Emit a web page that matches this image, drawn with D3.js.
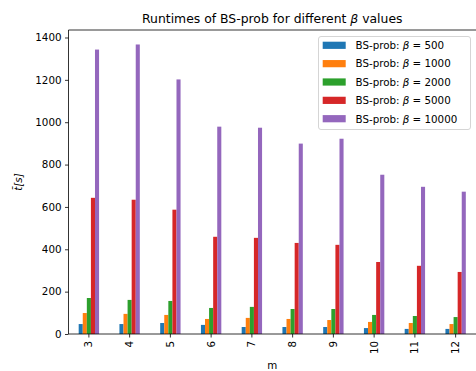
<!DOCTYPE html>
<html>
<head>
<meta charset="utf-8">
<script src="https://cdn.jsdelivr.net/npm/d3@7"></script>
<style>
  body { margin: 0; background: white; }
  text { font-family: "DejaVu Sans", sans-serif; }
</style>
</head>
<body>
<div id="container"></div>
<script>
// data
let mValues = ["3", "4", "5", "6", "7", "8", "9", "10", "11", "12"];
let betas = ["500", "1000", "2000", "5000", "10000"];
let beta500 = [47, 47, 52, 43, 33, 33, 33, 28, 24, 24];
let beta1000 = [99, 95, 90, 71, 76, 71, 66, 57, 52, 47];
let beta2000 = [170, 161, 156, 123, 128, 118, 118, 90, 85, 80];
let beta5000 = [643, 634, 587, 459, 454, 430, 421, 340, 322, 293];
let beta10000 = [1343, 1367, 1202, 979, 974, 899, 922, 752, 695, 672];
let yTicks = [0, 200, 400, 600, 800, 1000, 1200, 1400];

let series = [beta500, beta1000, beta2000, beta5000, beta10000];
let colors = ["#1f77b4", "#ff7f0e", "#2ca02c", "#d62728", "#9467bd"];

let W = 476, H = 371;
let axLeft = 68.5, axRight = 476, axTop = 30, axBottom = 334;

let viz = d3.select("#container")
  .append("svg")
    .attr("width", W)
    .attr("height", H)
    .style("background-color", "white");

let x = d3.scaleBand()
  .domain(mValues)
  .range([axLeft, axRight])
  .padding(0);

// pandas bars: group spans half of the slot
let xInner = d3.scaleBand()
  .domain(betas)
  .range([x.bandwidth() * 0.25, x.bandwidth() * 0.75])
  .padding(0);

let y = d3.scaleLinear()
  .domain([0, 1435.4])
  .range([axBottom, axTop]);

// bars
series.forEach(function(vals, si) {
  viz.append("g")
    .selectAll("rect")
    .data(vals)
    .join("rect")
      .attr("x", (d, i) => x(mValues[i]) + xInner(betas[si]))
      .attr("y", d => y(d))
      .attr("width", xInner.bandwidth())
      .attr("height", d => y(0) - y(d))
      .attr("fill", colors[si]);
});

// y axis
let yAxis = viz.append("g")
  .attr("transform", "translate(" + axLeft + ",0)")
  .call(d3.axisLeft(y).tickValues(yTicks).tickSize(3.5).tickPadding(3.5).tickFormat(d3.format("d")));
yAxis.select(".domain").remove();
yAxis.selectAll("line").attr("stroke", "black").attr("stroke-width", 0.8);
yAxis.selectAll("text").attr("font-size", 10.3).attr("fill", "black")
  .attr("font-family", "DejaVu Sans");

// x axis
let xAxis = viz.append("g")
  .attr("transform", "translate(0," + axBottom + ")")
  .call(d3.axisBottom(x).tickSize(3.5).tickPadding(3.5));
xAxis.select(".domain").remove();
xAxis.selectAll("line").attr("stroke", "black").attr("stroke-width", 0.8);
xAxis.selectAll("text")
  .attr("font-size", 10.3)
  .attr("fill", "black")
  .attr("font-family", "DejaVu Sans")
  .attr("text-anchor", "end")
  .attr("y", 0)
  .attr("dy", "0.35em")
  .attr("transform", "translate(0,7) rotate(-90)");

// spines
viz.append("line").attr("x1", axLeft).attr("x2", axLeft).attr("y1", axTop).attr("y2", axBottom)
  .attr("stroke", "black").attr("stroke-width", 0.8);
viz.append("line").attr("x1", axLeft).attr("x2", axRight).attr("y1", axBottom).attr("y2", axBottom)
  .attr("stroke", "black").attr("stroke-width", 0.8);
viz.append("line").attr("x1", axLeft).attr("x2", axRight).attr("y1", axTop).attr("y2", axTop)
  .attr("stroke", "black").attr("stroke-width", 0.8);

// title
let title = viz.append("text")
  .attr("x", (axLeft + axRight) / 2)
  .attr("y", 22.5)
  .attr("text-anchor", "middle")
  .attr("font-size", 12.4)
  .attr("fill", "black");
title.append("tspan").text("Runtimes of BS-prob for different ");
title.append("tspan").text("β").attr("font-style", "italic");
title.append("tspan").text(" values");

// axis labels
viz.append("text")
  .text("m")
  .attr("x", (axLeft + axRight) / 2)
  .attr("y", 369)
  .attr("text-anchor", "middle")
  .attr("font-size", 10.3)
  .attr("fill", "black");

viz.append("text")
  .text("t\u0304[s]")
  .attr("transform", "translate(22," + ((axTop + axBottom) / 2) + ") rotate(-90)")
  .attr("text-anchor", "middle")
  .attr("font-size", 10.3)
  .attr("font-style", "italic")
  .attr("fill", "black");

// legend
let legend = viz.append("g");
legend.append("rect")
  .attr("x", 318.5)
  .attr("y", 36.5)
  .attr("width", 152)
  .attr("height", 93)
  .attr("rx", 2.5)
  .attr("fill", "white")
  .attr("fill-opacity", 0.8)
  .attr("stroke", "#d5d5d5")
  .attr("stroke-width", 1);

betas.forEach(function(b, i) {
  let cy = 45.3 + i * 18.35;
  legend.append("rect")
    .attr("x", 322.7)
    .attr("y", cy - 3.6)
    .attr("width", 23)
    .attr("height", 7.2)
    .attr("fill", colors[i]);
  let t = legend.append("text")
    .attr("x", 355.5)
    .attr("y", cy + 3.8)
    .attr("font-size", 10.3)
    .attr("fill", "black");
  t.append("tspan").text("BS-prob: ");
  t.append("tspan").text("β").attr("font-style", "italic");
  t.append("tspan").text(" = " + b);
});
</script>
</body>
</html>
